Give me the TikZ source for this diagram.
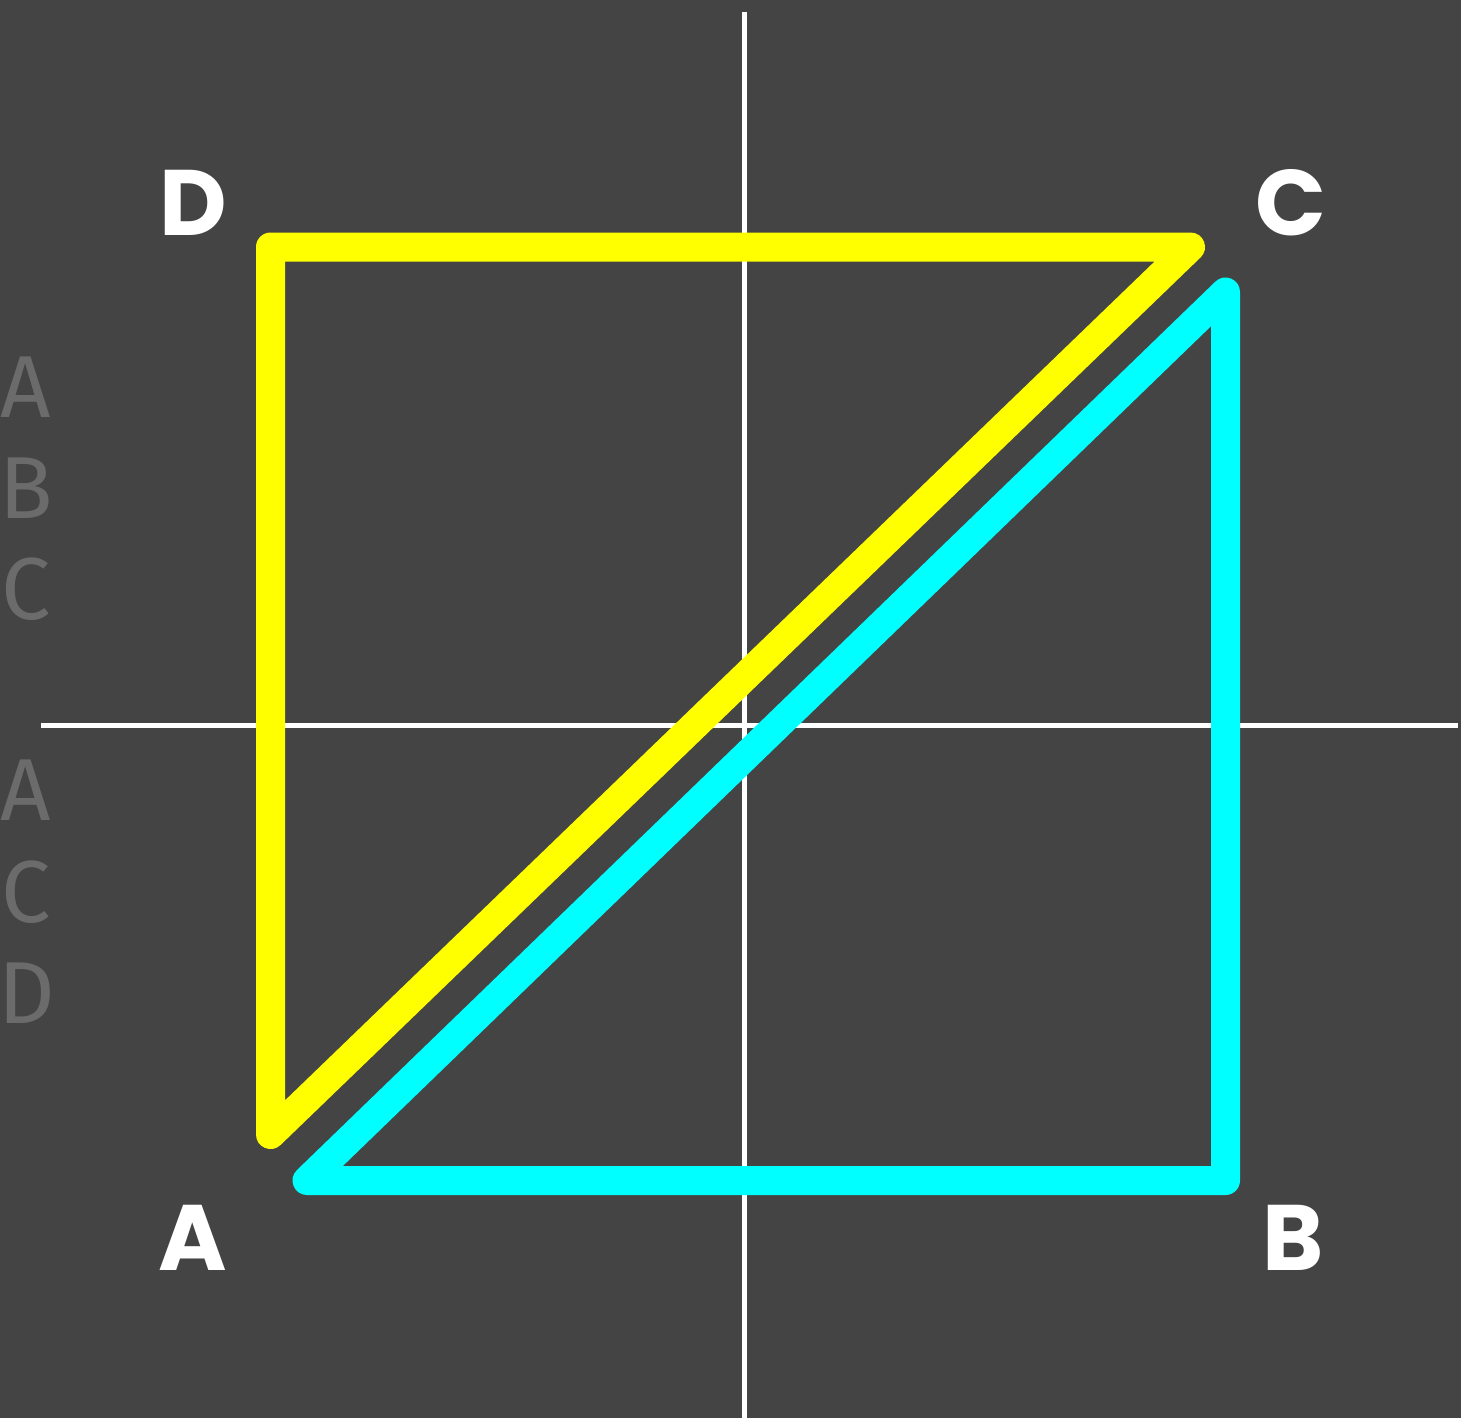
\documentclass[tikz,border=0pt]{standalone}
\usepackage{fontspec}
\newfontfamily\labfont{Poppins}
\newfontfamily\sidefont{Fira Sans}
\definecolor{bgc}{HTML}{444444}
\definecolor{sidegray}{HTML}{6B6B6B}
\definecolor{yel}{HTML}{FFFF00}
\definecolor{cya}{HTML}{00FFFF}
\tikzset{
  axisline/.style={draw=white,line width=5pt},
  triline/.style={line width=29pt,line join=round,line cap=round},
  corner/.style={text=white,inner sep=0pt,font=\labfont\bfseries\fontsize{93}{93}\selectfont},
  sidelab/.style={text=sidegray,inner sep=0pt,font=\sidefont\fontsize{88}{88}\selectfont}
}
\begin{document}
\begin{tikzpicture}[x=1pt,y=-1pt]
\fill[bgc] (0,0) rectangle (1461,1418);
\useasboundingbox (0,0) rectangle (1461,1418);
% axes
\coordinate (vt) at (744.5,12);
\coordinate (vb) at (744.5,1418);
\coordinate (hl) at (41,725.5);
\coordinate (hr) at (1458,725.5);
\draw[axisline] (vt) -- (vb);
\draw[axisline] (hl) -- (hr);
% yellow triangle
\coordinate (yD) at (270.5,247);
\coordinate (yC) at (1190.5,247);
\coordinate (yA) at (270.5,1134.5);
\draw[triline,yel] (yD) -- (yC) -- (yA) -- cycle;
% cyan triangle
\coordinate (cC) at (1225.5,292);
\coordinate (cB) at (1225.5,1180.5);
\coordinate (cA) at (307,1180.5);
\draw[triline,cya] (cC) -- (cB) -- (cA) -- cycle;
% corner labels
\node[corner] (lD) at (193.5,202.5) {D};
\node[corner] (lC) at (1291,203) {C};
\node[corner] (lA) at (192.5,1237.5) {A};
\node[corner] (lB) at (1293,1237.5) {B};
% side labels
\node[sidelab] (s1) at (26,387) {A};
\node[sidelab] (s2) at (26,488) {B};
\node[sidelab] (s3) at (26,589) {C};
\node[sidelab] (s4) at (26,790) {A};
\node[sidelab] (s5) at (26,892) {C};
\node[sidelab] (s6) at (27,993) {D};
\end{tikzpicture}
\end{document}
